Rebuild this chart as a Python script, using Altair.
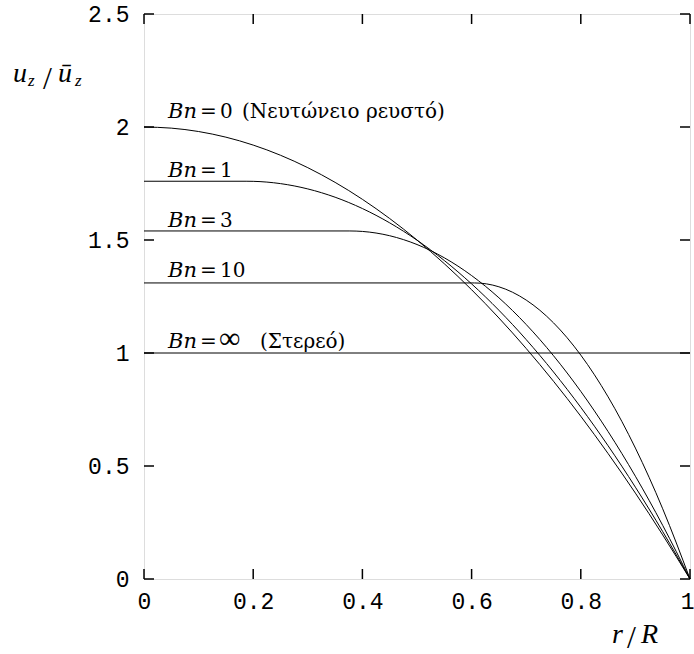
import altair as alt
import pandas as pd

# ---- data ----
bn0_r = [0.0, 0.05, 0.1, 0.15, 0.2, 0.25, 0.3, 0.35, 0.4, 0.45, 0.5, 0.55, 0.6, 0.65, 0.7, 0.75, 0.8, 0.85, 0.9, 0.95, 1.0]
bn0_u = [2.0, 1.995, 1.98, 1.955, 1.92, 1.875, 1.82, 1.755, 1.68, 1.595, 1.5, 1.395, 1.28, 1.155, 1.02, 0.875, 0.72, 0.555, 0.38, 0.195, 0.0]

bn1_r = [0.0, 0.187, 0.2, 0.25, 0.3, 0.35, 0.4, 0.45, 0.5, 0.55, 0.6, 0.65, 0.7, 0.75, 0.8, 0.85, 0.9, 0.95, 1.0]
bn1_u = [1.76, 1.76, 1.7596, 1.7495, 1.726, 1.6893, 1.6392, 1.5758, 1.4992, 1.4092, 1.3058, 1.1892, 1.0593, 0.916, 0.7594, 0.5895, 0.4063, 0.2098, 0.0]

bn3_r = [0.0, 0.377, 0.4, 0.45, 0.5, 0.55, 0.6, 0.65, 0.7, 0.75, 0.8, 0.85, 0.9, 0.95, 1.0]
bn3_u = [1.54, 1.54, 1.5379, 1.5189, 1.48, 1.4213, 1.3427, 1.2443, 1.1261, 0.988, 0.8301, 0.6523, 0.4547, 0.2373, 0.0]

bn10_r = [0.0, 0.605, 0.65, 0.7, 0.75, 0.8, 0.85, 0.9, 0.95, 1.0]
bn10_u = [1.31, 1.31, 1.293, 1.2342, 1.1335, 0.9907, 0.806, 0.5793, 0.3107, 0.0]

bninf_r = [0.0, 1.0]
bninf_u = [1.0, 1.0]

label_bn = ["Bn", "Bn", "Bn", "Bn", "Bn"]
label_num = ["0", "1", "3", "10", "∞"]
label_x = [0.044, 0.044, 0.044, 0.044, 0.044]
label_y = [2.040, 1.779, 1.558, 1.338, 1.021]
note_newton = "(Νευτώνειο ρευστό)"
note_solid = "(Στερεό)"

x_ticks = [0.0, 0.2, 0.4, 0.6, 0.8, 1.0]
y_ticks = [0.0, 0.5, 1.0, 1.5, 2.0, 2.5]

# ---- tables ----
rows = []
for name, rs, us in [("0", bn0_r, bn0_u), ("1", bn1_r, bn1_u), ("3", bn3_r, bn3_u),
                     ("10", bn10_r, bn10_u), ("inf", bninf_r, bninf_u)]:
    for r, u in zip(rs, us):
        rows.append({"series": name, "r": r, "u": u})
df = pd.DataFrame(rows)
lab = pd.DataFrame({"x": label_x, "y": label_y, "bn": label_bn,
                    "eq": ["="] * len(label_bn), "num": label_num})
note0 = pd.DataFrame({"x": [label_x[0]], "y": [label_y[0]], "t": [note_newton]})
noteinf = pd.DataFrame({"x": [label_x[4]], "y": [label_y[4]], "t": [note_solid]})
xt = pd.DataFrame({"v": x_ticks})
yt = pd.DataFrame({"v": y_ticks})

W, H = 546, 565
xs = alt.Scale(domain=[0, 1], nice=False, zero=False)
ys = alt.Scale(domain=[0, 2.5], nice=False, zero=False)
MONO = "Liberation Mono"
SERIF = "Liberation Serif"
LSERIF = "DejaVu Serif"

xaxis = alt.Axis(values=x_ticks, format=".1~f", ticks=False, domain=False, grid=False,
                 labelFont=MONO, labelFontSize=23, labelColor="black", labelPadding=11,
                 labelAlign={"condition": {"test": "datum.value == 1", "value": "right"}, "value": "center"},
                 labelOffset={"condition": {"test": "datum.value == 1", "value": 4}, "value": 0},
                 labelFlush=False, labelOverlap=False, title=None)
yaxis = alt.Axis(values=y_ticks, format=".1~f", ticks=False, domain=False, grid=False,
                 labelFont=MONO, labelFontSize=23, labelColor="black", labelPadding=15,
                 labelOverlap=False, title=None)

lines = alt.Chart(df).mark_line(color="black", strokeWidth=1, interpolate="monotone").encode(
    x=alt.X("r:Q", scale=xs, axis=xaxis),
    y=alt.Y("u:Q", scale=ys, axis=yaxis),
    detail="series:N",
)

def lbl(data, field, dx, italic=False, size=20, font=LSERIF):
    kw = dict(font=font, fontSize=size, align="left", baseline="alphabetic", color="black", dx=dx)
    if italic:
        kw["fontStyle"] = "italic"
    return alt.Chart(data).mark_text(**kw).encode(
        x=alt.X("x:Q", scale=xs), y=alt.Y("y:Q", scale=ys), text=f"{field}:N")

bn_text = lbl(lab, "bn", 0, italic=True, size=21)
eq_text = lbl(lab, "eq", 32)
num_text = lbl(lab, "num", 52).transform_filter("datum.num != '∞'")
inf_text = lbl(lab, "num", 51, size=30, font=SERIF).transform_filter("datum.num == '∞'")
n0_text = lbl(note0, "t", 74, size=20)
ninf_text = lbl(noteinf, "t", 92, size=20)

tick_len = 10
bottom_ticks = alt.Chart(xt).mark_rule(color="black", strokeWidth=1.5).encode(
    x=alt.X("v:Q", scale=xs), y=alt.value(H), y2=alt.value(H - tick_len))
top_ticks = alt.Chart(xt).mark_rule(color="black", strokeWidth=1.5).encode(
    x=alt.X("v:Q", scale=xs), y=alt.value(0), y2=alt.value(tick_len))
left_ticks = alt.Chart(yt).mark_rule(color="black", strokeWidth=1.5).encode(
    y=alt.Y("v:Q", scale=ys), x=alt.value(0), x2=alt.value(tick_len))
right_ticks = alt.Chart(yt).mark_rule(color="black", strokeWidth=1.5).encode(
    y=alt.Y("v:Q", scale=ys), x=alt.value(W), x2=alt.value(W - tick_len))

one = pd.DataFrame({"a": [0]})

def txt(s, px, py, size, italic=True, align="left"):
    kw = dict(font=SERIF, fontSize=size, align=align, baseline="alphabetic", color="black")
    if italic:
        kw["fontStyle"] = "italic"
    return alt.Chart(one).mark_text(**kw).encode(
        x=alt.value(px), y=alt.value(py), text=alt.value(s))

ytitle = [
    txt("u", -131, 68, 28),
    txt("z", -116, 72, 17),
    txt("/", -101, 75, 32, italic=False),
    txt("ū", -86, 68, 28),
    txt("z", -69, 72, 17),
]
xtitle = [
    txt("r", 468, 629, 28),
    txt("/", 483, 634, 32, italic=False),
    txt("R", 497, 629, 28),
]

chart = alt.layer(
    lines, bn_text, eq_text, num_text, inf_text, n0_text, ninf_text,
    bottom_ticks, top_ticks, left_ticks, right_ticks,
    *ytitle, *xtitle,
).properties(
    width=W, height=H,
    padding={"left": 144, "top": 14, "right": 4, "bottom": 75},
    autosize=alt.AutoSizeParams(type="none"),
).configure_view(stroke="black", strokeWidth=1.5).configure(background="white")

chart.save("out.html", embed_options={"renderer": "svg", "actions": False})
